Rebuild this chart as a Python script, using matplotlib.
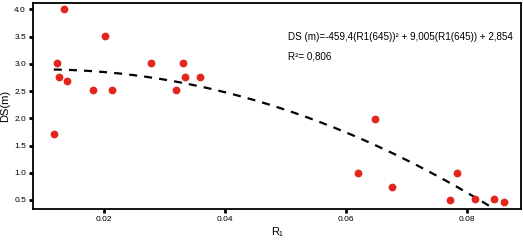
import numpy as np
import matplotlib
matplotlib.use('Agg')
import matplotlib.pyplot as plt

plt.rcParams['font.family'] = ['Liberation Sans', 'DejaVu Sans']

# measured points: R1(645) vs DS(m)
r1 = [0.01174, 0.01218, 0.01251, 0.01344, 0.01388, 0.01818, 0.02017, 0.02137,
      0.02782, 0.03185, 0.03311, 0.03344, 0.03582, 0.06203, 0.06474, 0.06755,
      0.0772, 0.0784, 0.08127, 0.0844, 0.0861]
ds = [1.72, 3.02, 2.75, 4.0, 2.69, 2.52, 3.51, 2.52,
      3.02, 2.52, 3.01, 2.75, 2.75, 1.0, 1.98, 0.73,
      0.50, 1.0, 0.51, 0.51, 0.46]

# quadratic fit shown on chart
coef = [-459.4, 9.005, 2.854]
fit_range = [0.0117, 0.0851]

xticks = [0.02, 0.04, 0.06, 0.08]
yticks = [0.5, 1.0, 1.5, 2.0, 2.5, 3.0, 3.5, 4.0]

fig = plt.figure(figsize=(5.23, 2.42), dpi=100)
ax = fig.add_axes([0.0631, 0.136, 0.933, 0.852])

xs = np.linspace(fit_range[0], fit_range[1], 200)
ax.plot(xs, np.polyval(coef, xs), color='black', lw=1.6, ls=(0, (3.6, 3.2)), zorder=2)
ax.plot(r1, ds, 'o', color='#e3241f', markersize=5.6, markeredgewidth=0, zorder=3)

ax.set_xlim(0.00826, 0.0889)
ax.set_ylim(0.333, 4.12)
ax.set_xticks(xticks)
ax.set_xticklabels(['0.02', '0.04', '0.06', '0.08'])
ax.set_yticks(yticks)
ax.set_yticklabels(['%.1f' % v for v in yticks])
ax.tick_params(direction='out', width=2, length=3, labelsize=6, pad=2, color='black')

for s in ax.spines.values():
    s.set_linewidth(1.3)

ax.set_ylabel('DS(m)', fontsize=8, labelpad=3)
ax.set_xlabel('R₁', fontsize=8, labelpad=3)

ax.text(0.0504, 3.5, 'DS (m)=-459,4(R1(645))² + 9,005(R1(645)) + 2,854',
        fontsize=7.1, va='center', ha='left')
ax.text(0.0504, 3.13, 'R²= 0,806', fontsize=7.1, va='center', ha='left')

fig.savefig('out.png', dpi=100)
